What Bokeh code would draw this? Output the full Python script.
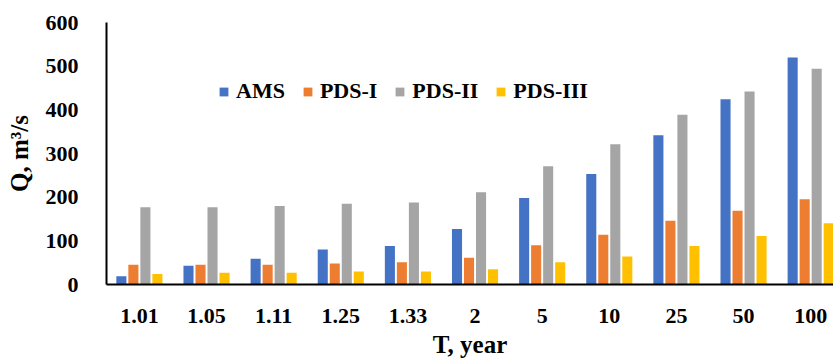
from bokeh.plotting import figure
from bokeh.models import Range1d, FixedTicker, Legend, LegendItem
from bokeh.embed import file_html
from bokeh.resources import INLINE

periods = ["1.01", "1.05", "1.11", "1.25", "1.33", "2", "5", "10", "25", "50", "100"]
ams = [19, 43, 59, 80, 88, 127, 198, 253, 342, 424, 520]
pds_1 = [45, 45, 45, 48, 51, 61, 90, 114, 146, 169, 195]
pds_2 = [177, 177, 180, 185, 188, 211, 271, 321, 389, 442, 494]
pds_3 = [24, 27, 27, 30, 30, 35, 51, 64, 88, 111, 140]
y_ticks = [0, 100, 200, 300, 400, 500, 600]

series = [("AMS", ams, "#4472C4"), ("PDS-I", pds_1, "#ED7D31"),
          ("PDS-II", pds_2, "#A5A5A5"), ("PDS-III", pds_3, "#FFC000")]

FONT = "Liberation Serif"

p = figure(width=833, height=361, output_backend="svg", toolbar_location=None,
           x_range=Range1d(-0.49, 10.34), y_range=Range1d(0, 600),
           min_border_left=106, min_border_right=0, min_border_top=22, min_border_bottom=77)
p.outline_line_color = None
p.xgrid.visible = False
p.ygrid.visible = False

xs = list(range(len(periods)))
step = 0.179
items = []
for k, (name, vals, col) in enumerate(series):
    off = (k - 1.5) * step
    r = p.vbar(x=[x + off for x in xs], top=vals, width=0.15, bottom=0,
               fill_color=col, line_color=None)
    items.append(LegendItem(label=name, renderers=[r]))

p.xaxis.ticker = FixedTicker(ticks=xs)
p.xaxis.major_label_overrides = {i: s for i, s in enumerate(periods)}
p.yaxis.ticker = FixedTicker(ticks=y_ticks)

for ax in (p.xaxis[0], p.yaxis[0]):
    ax.axis_line_color = "black"
    ax.axis_line_width = 2
    ax.major_tick_line_color = None
    ax.minor_tick_line_color = None
    ax.major_label_text_font = FONT
    ax.major_label_text_font_style = "bold"
    ax.major_label_text_font_size = "22px"
    ax.major_label_text_color = "black"
    ax.axis_label_text_font = FONT
    ax.axis_label_text_font_style = "bold"
    ax.axis_label_text_font_size = "25px"
    ax.axis_label_text_color = "black"

p.xaxis.axis_label = "T, year"
p.yaxis.axis_label = "Q, m³/s"
p.xaxis.major_label_standoff = 18
p.xaxis.axis_label_standoff = 5
p.yaxis.major_label_standoff = 22
p.yaxis.axis_label_standoff = 10

legend = Legend(items=items, orientation="horizontal", location=(112, 180),
                background_fill_alpha=0, border_line_color=None,
                label_text_font=FONT, label_text_font_style="bold",
                label_text_font_size="22px", label_text_color="black",
                glyph_width=11, glyph_height=11, label_standoff=7, spacing=17,
                padding=0, margin=0)
p.add_layout(legend)

open("out.html", "w").write(file_html(p, INLINE))
